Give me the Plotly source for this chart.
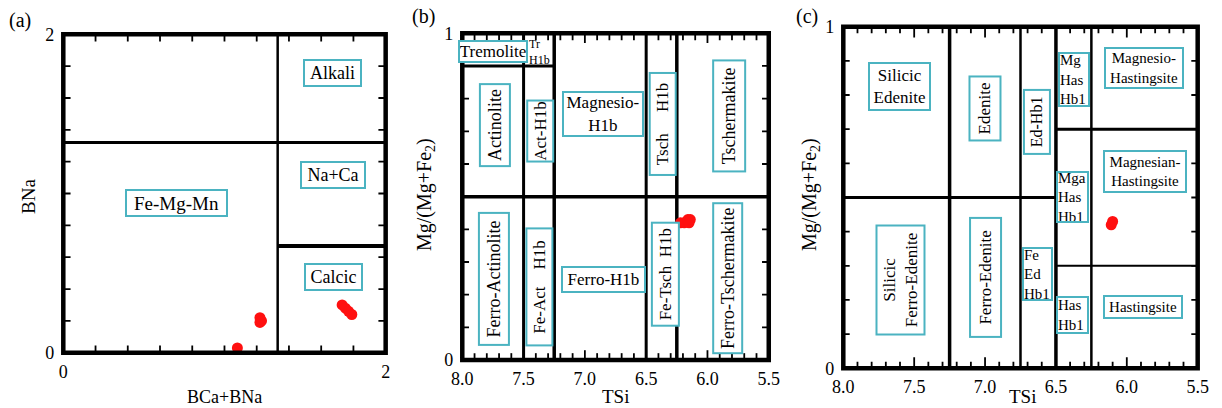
import plotly.graph_objects as go

# ---- analyses -------------------------------------------------------------
# (a) B-site classification: BCa+BNa vs BNa
a_bca_bna = [1.08, 1.22, 1.22, 1.23, 1.73, 1.75, 1.77, 1.79]
a_bna = [0.03, 0.22, 0.19, 0.20, 0.30, 0.28, 0.26, 0.24]

# (b) calcic amphiboles, (Na+K)A < 0.5: TSi vs Mg/(Mg+Fe2)
b_tsi = [6.22, 6.19, 6.16, 6.15, 6.14]
b_mg = [0.42, 0.42, 0.43, 0.42, 0.43]

# (c) calcic amphiboles, (Na+K)A >= 0.5
c_tsi = [6.11, 6.10]
c_mg = [0.42, 0.43]

# ---- field boundaries: (x pair, y pair, line width) -----------------------
a_bounds = [([1.33, 1.33], [0, 2], 2.5),
            ([0, 2], [1.32, 1.32], 3),
            ([1.33, 2], [0.67, 0.67], 4)]
b_bounds = [([7.5, 7.5], [0, 1], 3),
            ([7.25, 7.25], [0, 1], 3.5),
            ([6.5, 6.5], [0, 1], 3),
            ([6.25, 6.25], [0, 1], 3.5),
            ([8, 5.5], [0.5, 0.5], 3.5),
            ([8, 7.25], [0.9, 0.9], 3)]
c_bounds = [([7.25, 7.25], [0, 1], 3.5),
            ([6.75, 6.75], [0, 1], 2.5),
            ([6.5, 6.5], [0, 1], 3.5),
            ([6.25, 6.25], [0, 1], 2.5),
            ([8, 6.5], [0.5, 0.5], 3),
            ([6.5, 5.5], [0.7, 0.7], 3),
            ([6.5, 5.5], [0.3, 0.3], 2)]

# tick marks along the frames
a_ticks = [0.2, 0.4, 0.6, 0.8, 1.0, 1.2, 1.4, 1.6, 1.8]
tsi_ticks = [7.9, 7.8, 7.7, 7.6, 7.5, 7.4, 7.3, 7.2, 7.1, 7.0, 6.9, 6.8, 6.7,
             6.6, 6.5, 6.4, 6.3, 6.2, 6.1, 6.0, 5.9, 5.8, 5.7, 5.6]
tsi_major = [7.5, 7.0, 6.5, 6.0]
mg_ticks = [0.1, 0.2, 0.3, 0.4, 0.5, 0.6, 0.7, 0.8, 0.9]
tsi_labels = [8.0, 7.5, 7.0, 6.5, 6.0, 5.5]

# ---- field names: (x, y, text, box w, box h, font size, angle, align) ------
a_fields = [(1.67, 1.757, "Alkali", 59, 28, 18, 0, "center"),
            (1.673, 1.116, "Na+Ca", 66, 28, 18, 0, "center"),
            (0.703, 0.941, "Fe-Mg-Mn", 103, 28, 19, 0, "center"),
            (1.676, 0.476, "Calcic", 59, 28, 18, 0, "center")]
NB = "\u00a0"
b_fields = [(7.75, 0.944, "Tremolite", 70, 23, 17, 0, "center"),
            (7.733, 0.719, "Actinolite", 84, 32, 18, -90, "center"),
            (7.367, 0.702, "Act-H1b", 63, 28, 17, -90, "center"),
            (6.853, 0.753, "Magnesio-<br>H1b", 82, 46, 17, 0, "center"),
            (6.364, 0.722, "Tsch" + NB * 5 + "H1b", 104, 28, 17, -90, "center"),
            (5.826, 0.748, "Tschermakite", 113, 34, 18, -90, "center"),
            (7.742, 0.248, "Ferro-Actinolite", 134, 32, 18, -90, "center"),
            (7.375, 0.225, "Fe-Act" + NB * 4 + "H1b", 119, 28, 17, -90, "center"),
            (6.849, 0.246, "Ferro-H1b", 85, 27, 17, 0, "center"),
            (6.344, 0.262, "Fe-Tsch" + NB * 2 + "H1b", 105, 29, 17, -90, "center"),
            (5.839, 0.251, "Ferro-Tschermakite", 152, 31, 18, -90, "center")]
c_fields = [(7.604, 0.825, "Silicic<br>Edenite", 63, 49, 17, 0, "center"),
            (6.997, 0.762, "Edenite", 66, 33, 17, -90, "center"),
            (6.634, 0.721, "Ed-Hb1", 66, 28, 16, -90, "center"),
            (6.372, 0.845, "Mg<br>Has<br>Hb1", 32, 55, 15, 0, "left"),
            (5.879, 0.879, "Magnesio-<br>Hastingsite", 80, 42, 15, 0, "center"),
            (5.872, 0.576, "Magnesian-<br>Hastingsite", 84, 43, 15, 0, "center"),
            (6.383, 0.501, "Mga<br>Has<br>Hb1", 33, 52, 15, 0, "left"),
            (7.60, 0.257, "Silicic<br>Ferro-Edenite", 111, 50, 17, -90, "center"),
            (6.997, 0.266, "Ferro-Edenite", 121, 33, 17, -90, "center"),
            (6.63, 0.276, "Fe<br>Ed<br>Hb1", 31, 54, 15, 0, "left"),
            (6.383, 0.156, "Has<br>Hb1", 33, 38, 15, 0, "left"),
            (5.886, 0.179, "Hastingsite", 80, 24, 15, 0, "center")]

FONT = "Liberation Serif"
BOX = "#4bb3c1"
RED = "#ff1010"

fig = go.Figure()


def tick_trace(xa, ya, xr, yr, xt, yt, xlen, ylen, xmajor=(), xmlen=0):
    """Inward tick marks on all four sides of a panel, as one line trace.
    xlen / xmlen are lengths in y units, ylen in x units."""
    px, py = [], []
    x0, x1 = xr
    y0, y1 = yr
    for v in xt:
        ln = xmlen if v in xmajor else xlen
        px += [v, v, None, v, v, None]
        py += [y0, y0 + ln, None, y1, y1 - ln, None]
    sgn = 1 if x1 > x0 else -1
    for v in yt:
        px += [x0, x0 + sgn * ylen, None, x1, x1 - sgn * ylen, None]
        py += [v, v, None, v, v, None]
    return go.Scatter(x=px, y=py, mode="lines", xaxis=xa, yaxis=ya,
                      line=dict(color="black", width=1.8), cliponaxis=False,
                      showlegend=False, hoverinfo="skip")


def add_panel(n, xs, ys, bounds, fields, ticks):
    xa = "x" if n == 1 else f"x{n}"
    ya = "y" if n == 1 else f"y{n}"
    fig.add_trace(ticks)
    for bx, by, w in bounds:
        fig.add_trace(go.Scatter(x=bx, y=by, mode="lines", xaxis=xa, yaxis=ya,
                                 line=dict(color="black", width=w),
                                 showlegend=False, hoverinfo="skip"))
    fig.add_trace(go.Scatter(x=xs, y=ys, mode="markers", xaxis=xa, yaxis=ya,
                             marker=dict(color=RED, size=11, line=dict(width=0)),
                             showlegend=False))
    for fx, fy, txt, w, h, sz, ang, al in fields:
        fig.add_annotation(x=fx, y=fy, xref=xa, yref=ya, text=txt,
                           showarrow=False, textangle=ang, align=al,
                           width=w - 4, height=h - 4, borderpad=0,
                           bordercolor=BOX, borderwidth=2, bgcolor="white",
                           font=dict(family=FONT, size=sz, color="black"))
    fig.add_shape(type="rect", xref=f"{xa} domain", yref=f"{ya} domain",
                  x0=0, x1=1, y0=0, y1=1, line=dict(color="black", width=4.5),
                  layer="above")


add_panel(1, a_bca_bna, a_bna, a_bounds, a_fields,
          tick_trace("x", "y", (0, 2), (0, 2), a_ticks, a_ticks, 0.045, 0.045))
add_panel(2, b_tsi, b_mg, b_bounds, b_fields,
          tick_trace("x2", "y2", (8, 5.5), (0, 1), tsi_ticks, mg_ticks,
                     0.021, 0.055, tsi_major, 0.03))
add_panel(3, c_tsi, c_mg, c_bounds, c_fields,
          tick_trace("x3", "y3", (8, 5.5), (0, 1), tsi_ticks, mg_ticks,
                     0.019, 0.045, tsi_major, 0.032))

# small "Tr / H1b" field name without a box
fig.add_annotation(x=7.367, y=0.943, xref="x2", yref="y2", text="Tr<br>H1b",
                   showarrow=False, align="left",
                   font=dict(family=FONT, size=12, color="black"))

tickfont = dict(family=FONT, size=18, color="black")
common = dict(showline=False, showgrid=False, zeroline=False, ticks="",
              tickfont=tickfont, automargin=False)

fig.update_layout(
    template="none",
    width=1222, height=408, margin=dict(l=0, r=0, t=0, b=0, autoexpand=False),
    paper_bgcolor="white", plot_bgcolor="white",
    font=dict(family=FONT, color="black"),
    xaxis=dict(domain=[0.0518, 0.3156], range=[0, 2], tickvals=[0, 2],
               ticktext=["0", "2"], ticklabelstandoff=6, anchor="y", **common),
    yaxis=dict(domain=[0.1355, 0.9159], range=[0, 2], tickvals=[0, 2],
               ticktext=["0", "2"], ticklabelstandoff=8, anchor="x", **common),
    xaxis2=dict(domain=[0.3783, 0.6291], range=[8, 5.5], tickvals=tsi_labels,
                tickformat=".1f", ticklabelstandoff=6, anchor="y2", **common),
    yaxis2=dict(domain=[0.1176, 0.9184], range=[0, 1], tickvals=[0, 1],
                ticktext=["0", "1"], ticklabelstandoff=8, anchor="x2", **common),
    xaxis3=dict(domain=[0.6901, 0.9801], range=[8, 5.5], tickvals=tsi_labels,
                tickformat=".1f", ticklabelstandoff=6, anchor="y3", **common),
    yaxis3=dict(domain=[0.0973, 0.9346], range=[0, 1], tickvals=[0, 1],
                ticktext=["0", "1"], ticklabelstandoff=8, anchor="x3", **common),
)

# panel letters and axis titles
texts = [
    (20, 20, "(a)", 20, 0), (423, 17, "(b)", 20, 0), (807, 17, "(c)", 20, 0),
    (224, 397, "BCa+BNa", 18, 0), (28, 197, "BNa", 19, -90),
    (615, 396, "TSi", 19, 0), (425, 195, "Mg/(Mg+Fe<sub>2</sub>)", 20, -90),
    (1022, 396, "TSi", 19, 0), (810, 195, "Mg/(Mg+Fe<sub>2</sub>)", 20, -90),
]
for px, py, t, sz, ang in texts:
    fig.add_annotation(x=px / 1222, y=1 - py / 408, xref="paper", yref="paper",
                       text=t, showarrow=False, textangle=ang,
                       xanchor="center", yanchor="middle",
                       font=dict(family=FONT, size=sz, color="black"))

fig.write_html("out.html")
